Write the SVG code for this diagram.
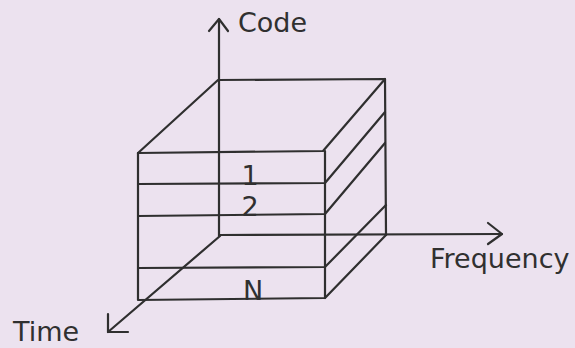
<svg xmlns="http://www.w3.org/2000/svg" width="575" height="348" viewBox="0 0 575 348">
<style>
.ln{stroke:#2f2f2f;stroke-width:2.2;fill:none;stroke-linecap:round;stroke-linejoin:round}
.t{font-family:"DejaVu Sans",Verdana,sans-serif;font-size:27px;fill:#303030}
</style>
<rect width="575" height="348" fill="#ece2ef"/>
<g id="connectors" class="ln">
<path d="M219,236 L219,19"/>
<path d="M209,31 L219,19 L228,31"/>
<path d="M219,235 L502,234"/>
<path d="M488,223 L502,234 L488,244"/>
<path d="M220,236 L108,332"/>
<path d="M108,314 L108,332 L128,332"/>
</g>
<g id="cube" class="ln">
<path d="M138,153 L218,80 L385,79 L386,235"/>
<path d="M138,153 L323,151 L385,79"/>
<path d="M138,153 L138,300 L325,298 L325,151"/>
<path d="M138,184 L325,183 L385,112"/>
<path d="M138,216 L325,214 L385,143"/>
<path d="M138,268 L325,267 L386,205"/>
<path d="M325,298 L386,235"/>
</g>
<g id="layer-1"><text class="t" x="250" y="185" text-anchor="middle">1</text></g>
<g id="layer-2"><text class="t" x="250" y="216" text-anchor="middle">2</text></g>
<g id="layer-N"><text class="t" x="253" y="300" text-anchor="middle">N</text></g>
<g id="label-code"><text class="t" x="238" y="32">Code</text></g>
<g id="label-frequency"><text class="t" x="430" y="268">Frequency</text></g>
<g id="label-time"><text class="t" x="13" y="341">Time</text></g>
</svg>
